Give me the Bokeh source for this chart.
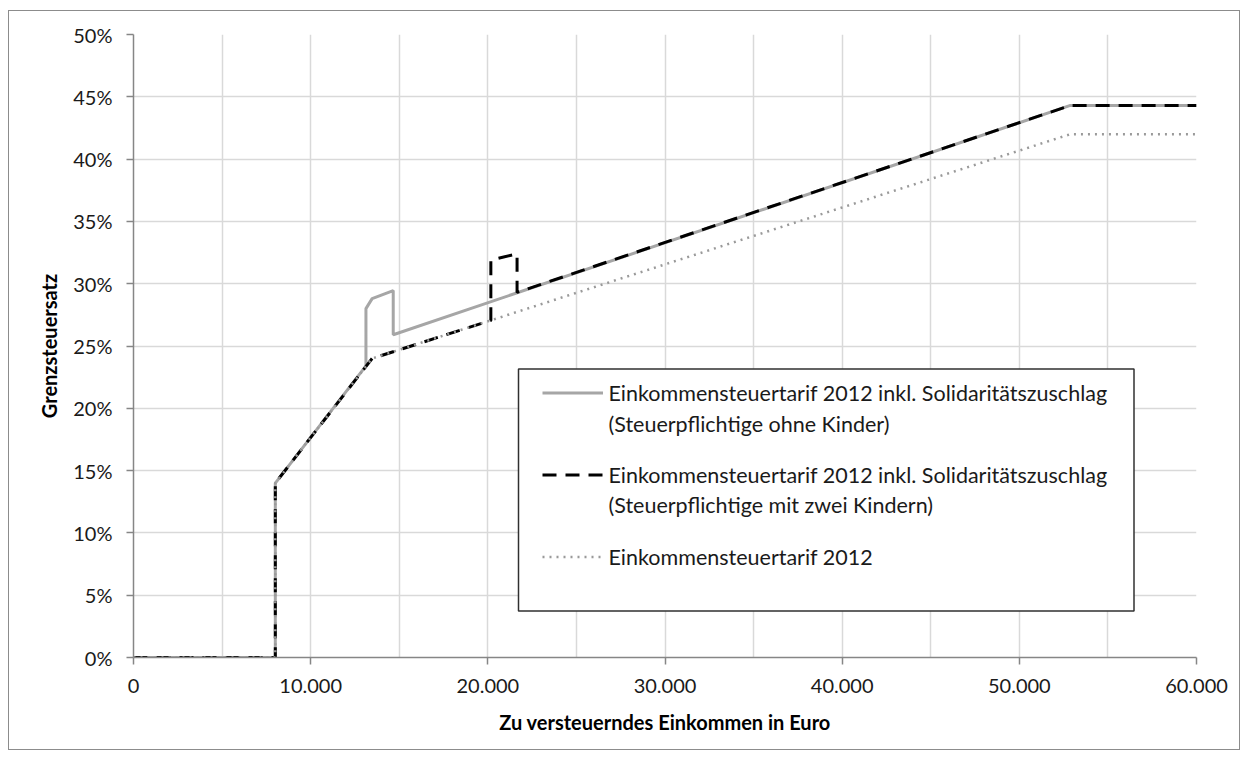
from bokeh.plotting import figure
from bokeh.models import FixedTicker, Legend, LegendItem, Range1d, BoxAnnotation
from bokeh.embed import file_html
from bokeh.resources import INLINE

# --- data (income in Euro, marginal tax rate in percent) ---
einkommen_ohne_kinder = [0, 8004, 8004, 13120, 13120, 13469, 14660, 14660, 52881, 60000]
satz_ohne_kinder = [0.0, 0.0, 14.0, 23.4, 28.0, 28.8, 29.45, 25.9, 44.31, 44.31]

einkommen_zwei_kinder = [0, 8004, 8004, 13469, 20170, 20170, 21650, 21650, 52881, 60000]
satz_zwei_kinder = [0.0, 0.0, 14.0, 24.0, 27.05, 31.9, 32.4, 29.3, 44.31, 44.31]

einkommen_tarif = [0, 8004, 8004, 13469, 52881, 60000]
satz_tarif = [0.0, 0.0, 14.0, 24.0, 42.0, 42.0]

x_ticks = [0, 10000, 20000, 30000, 40000, 50000, 60000]
x_tick_labels = ["0", "10.000", "20.000", "30.000", "40.000", "50.000", "60.000"]
x_minor = [5000, 15000, 25000, 35000, 45000, 55000]
y_ticks = [0, 5, 10, 15, 20, 25, 30, 35, 40, 45, 50]
y_tick_labels = ["0%", "5%", "10%", "15%", "20%", "25%", "30%", "35%", "40%", "45%", "50%"]

legend_first_lines = ["Einkommensteuertarif 2012 inkl. Solidaritätszuschlag",
                      "Einkommensteuertarif 2012 inkl. Solidaritätszuschlag",
                      "Einkommensteuertarif 2012"]
legend_second_lines = ["(Steuerpflichtige ohne Kinder)",
                       "(Steuerpflichtige mit zwei Kindern)"]

FONT = "Lato"
TEXT = "#1a1a1a"
AXIS = "#868686"
GRID = "#d9d9d9"

p = figure(width=1232, height=740, output_backend="svg", toolbar_location=None,
           x_range=Range1d(0, 60000), y_range=Range1d(0, 50),
           min_border_left=124, min_border_right=45, min_border_top=23, min_border_bottom=94)
p.styles = {"margin-left": "8px", "margin-top": "10px", "border": "1.5px solid #8c8c8c"}
p.outline_line_color = None
p.background_fill_color = "white"
p.border_fill_color = "white"

# axes
p.xaxis.ticker = FixedTicker(ticks=x_ticks, minor_ticks=x_minor)
p.xaxis.major_label_overrides = {t: l for t, l in zip(x_ticks, x_tick_labels)}
p.yaxis.ticker = FixedTicker(ticks=y_ticks)
p.yaxis.major_label_overrides = {t: l for t, l in zip(y_ticks, y_tick_labels)}

for ax in (p.xaxis, p.yaxis):
    ax.axis_line_color = AXIS
    ax.axis_line_width = 1.5
    ax.major_tick_line_color = AXIS
    ax.major_tick_line_width = 1.5
    ax.major_tick_in = 0
    ax.major_tick_out = 7
    ax.minor_tick_line_color = None
    ax.major_label_text_font = FONT
    ax.major_label_text_font_size = "20px"
    ax.major_label_text_color = TEXT
    ax.axis_label_text_font = FONT
    ax.axis_label_text_font_size = "20px"
    ax.axis_label_text_font_style = "bold"
    ax.axis_label_text_color = "black"

p.xaxis.axis_label = "Zu versteuerndes Einkommen in Euro"
p.yaxis.axis_label = "Grenzsteuersatz"
p.xaxis.major_label_standoff = 14
p.xaxis.axis_label_standoff = 14
p.yaxis.major_label_standoff = 14
p.yaxis.axis_label_standoff = 9

# grid
p.xgrid.grid_line_color = GRID
p.xgrid.grid_line_width = 1.5
p.xgrid.minor_grid_line_color = GRID
p.xgrid.minor_grid_line_width = 1.5
p.ygrid.grid_line_color = GRID
p.ygrid.grid_line_width = 1.5

# series
r_ohne = p.line(einkommen_ohne_kinder, satz_ohne_kinder, line_color="#a6a6a6", line_width=3)
r_zwei = p.line(einkommen_zwei_kinder, satz_zwei_kinder, line_color="black", line_width=3,
                line_dash="14 9")
r_tarif = p.line(einkommen_tarif, satz_tarif, line_color="#9a9a9a", line_width=2.5,
                 line_dash="2 5")
r_blank = p.line(x=[], y=[], line_alpha=0)

# legend frame (canvas pixels)
box = BoxAnnotation(left=508, right=1123.5, top=356.5, bottom=598.5,
                    left_units="canvas", right_units="canvas",
                    top_units="canvas", bottom_units="canvas",
                    fill_color="white", fill_alpha=1.0,
                    line_color="#303030", line_alpha=1.0, line_width=1.5)
p.add_layout(box)


def style_legend(lg, spacing):
    lg.border_line_color = None
    lg.background_fill_alpha = 0.0
    lg.padding = 0
    lg.margin = 0
    lg.spacing = spacing
    lg.glyph_width = 61
    lg.glyph_height = 31
    lg.label_height = 31
    lg.label_standoff = 6
    lg.label_text_font = FONT
    lg.label_text_font_size = "21.5px"
    lg.label_text_color = TEXT


legend_main = Legend(items=[LegendItem(label=legend_first_lines[0], renderers=[r_ohne]),
                            LegendItem(label=legend_first_lines[1], renderers=[r_zwei]),
                            LegendItem(label=legend_first_lines[2], renderers=[r_tarif])],
                     location=(408.5, 85), orientation="vertical")
style_legend(legend_main, 51)

legend_sub = Legend(items=[LegendItem(label=legend_second_lines[0], renderers=[r_blank]),
                           LegendItem(label=legend_second_lines[1], renderers=[r_blank])],
                    location=(408.5, 137), orientation="vertical")
style_legend(legend_sub, 50)

p.add_layout(legend_main)
p.add_layout(legend_sub)

open("out.html", "w").write(file_html(p, INLINE))
